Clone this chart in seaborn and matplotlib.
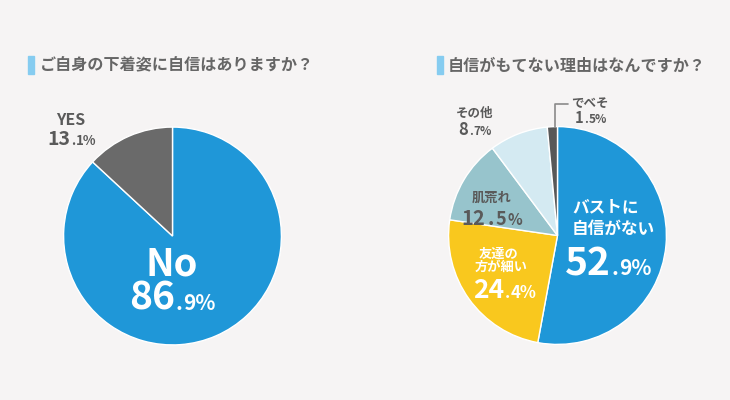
import matplotlib
matplotlib.use("Agg")
import matplotlib.pyplot as plt
from matplotlib.patches import Rectangle
from matplotlib.lines import Line2D
import seaborn as sns

# ---- data ----
q1_title = "ご自身の下着姿に自信はありますか？"
q1_labels = ["NO", "YES"]
q1_values = [86.9, 13.1]
q1_colors = ["#1F97D8", "#6A6A6A"]

q2_title = "自信がもてない理由はなんですか？"
q2_labels = ["バストに\n自信がない", "友達の\n方が細い", "肌荒れ", "その他", "でべそ"]
q2_values = [52.9, 24.4, 12.5, 8.7, 1.5]
q2_colors = ["#1F97D8", "#F9C81E", "#97C4CC", "#D4EAF2", "#585858"]

BG = "#F6F4F4"
DARK = "#5A5A5A"
TITLE = "#666666"
FAM = ["Noto Sans CJK JP", "DejaVu Sans"]

sns.set_theme(style="white")
plt.rcParams["font.family"] = FAM

W, H = 730, 400
fig = plt.figure(figsize=(W / 100, H / 100), dpi=100, facecolor=BG)


def fx(px):
    return px / W


def fy(py):
    return 1 - py / H


def add_pie_axes(cx, cy, r):
    ax = fig.add_axes([fx(cx - r), fy(cy + r), 2 * r / W, 2 * r / H])
    ax.set_facecolor("none")
    return ax


ax1 = add_pie_axes(172.5, 236, 110)
ax1.pie(q1_values, colors=q1_colors, startangle=90, counterclock=False,
        wedgeprops=dict(edgecolor="white", linewidth=1))
ax1.set_xlim(-1.01, 1.01); ax1.set_ylim(-1.01, 1.01); ax1.set_aspect("equal")
ax1.axis("off")

ax2 = add_pie_axes(557.5, 235.5, 110)
ax2.pie(q2_values, colors=q2_colors, startangle=90, counterclock=False,
        wedgeprops=dict(edgecolor="white", linewidth=1))
ax2.set_xlim(-1.01, 1.01); ax2.set_ylim(-1.01, 1.01); ax2.set_aspect("equal")
ax2.axis("off")

# titles with accent bars
for bx, tx, title in [(28, 40, q1_title), (437, 448, q2_title)]:
    fig.patches.append(Rectangle((fx(bx), fy(74)), 6 / W, 18 / H,
                                 transform=fig.transFigure, color="#86CCF0"))
    fig.text(fx(tx), fy(65.5), title, fontsize=11.6, fontweight="bold",
             color=TITLE, va="center", ha="left", family=FAM)

# leader line for でべそ
fig.add_artist(Line2D([fx(555), fx(555), fx(568)], [fy(127), fy(104), fy(104)],
                      transform=fig.transFigure, color="#8A8A8A", linewidth=1.2))

rich_items = []


def rich(x, y, parts, color, ha="center"):
    texts = []
    for p in parts:
        s, size = p[0], p[1]
        gap = p[2] if len(p) > 2 else 0
        t = fig.text(0, 0, s, fontsize=size, color=color, fontweight="bold",
                     va="baseline", ha="left", family=FAM)
        texts.append((t, gap))
    rich_items.append((texts, x, y, ha))


def pct_parts(v, big, small, gap=0.5):
    a, b = f"{v:.1f}".split(".")
    return [(a, big, gap), (".", small, gap), (b + "%", small)]


def label(x, y, s, size, color, ha="center"):
    fig.text(fx(x), fy(y), s, fontsize=size, color=color, fontweight="bold",
             va="baseline", ha=ha, family=FAM, linespacing=1.15)


# left pie labels
label(71, 125, q1_labels[1], 11.5, DARK)
rich(72, 145, pct_parts(q1_values[1], 14, 9.5), DARK)
label(172, 275, q1_labels[0].capitalize(), 27.5, "white")
rich(172, 310, pct_parts(q1_values[0], 28, 15), "white")

# right pie labels
bust1, bust2 = q2_labels[0].split("\n")
label(572, 212, bust1, 12, "white", ha="left")
label(572, 234, bust2, 12, "white", ha="left")
rich(565, 275, pct_parts(q2_values[0], 28, 15), "white", ha="left")

fr1, fr2 = q2_labels[1].split("\n")
label(499, 258, fr1, 9.5, "white")
label(501, 271, fr2, 9.5, "white")
rich(505, 298, pct_parts(q2_values[1], 19, 12), "white")

label(492, 202, q2_labels[2], 9.5, DARK)
rich(492, 225, [("12", 14.5, 2), (".", 14.5, 2), ("5", 13, 1), ("%", 11)], DARK)

label(475, 117, q2_labels[3], 9, DARK)
rich(475, 135, pct_parts(q2_values[3], 12, 8.5), DARK)

label(590, 107, q2_labels[4], 9, DARK)
rich(591, 123, pct_parts(q2_values[4], 10.5, 8.5), DARK)

# lay out rich texts by measuring
fig.canvas.draw()
renderer = fig.canvas.get_renderer()
for texts, x, y, ha in rich_items:
    widths = [t.get_window_extent(renderer).width + g for t, g in texts]
    total = sum(widths) - texts[-1][1]
    start = x - total / 2 if ha == "center" else x
    cur = start
    for (t, g), w in zip(texts, widths):
        t.set_position((fx(cur), fy(y)))
        cur += w

fig.savefig("out.png", dpi=100, facecolor=BG)
